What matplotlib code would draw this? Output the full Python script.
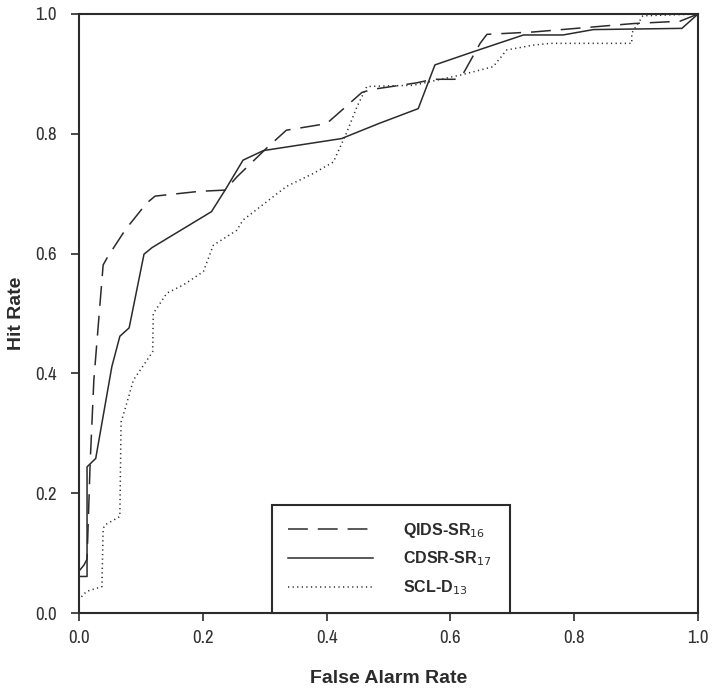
import matplotlib
matplotlib.use("Agg")
import matplotlib.pyplot as plt
from matplotlib.lines import Line2D
from matplotlib import font_manager

plt.rcParams["font.family"] = ["Liberation Sans", "DejaVu Sans"]

# condensed face for tick labels if present
NARROW = [f.name for f in font_manager.fontManager.ttflist if "Narrow" in f.name]
TICK_FAMILY = [NARROW[0], "Liberation Sans"] if NARROW else ["Liberation Sans"]

INK = "#2b2b2b"

# ROC curves
qids_x = [0.0, 0.008, 0.013, 0.018, 0.024, 0.039, 0.046, 0.075, 0.109, 0.123,
          0.195, 0.236, 0.255, 0.303, 0.335, 0.400, 0.422, 0.457, 0.473,
          0.545, 0.572, 0.607, 0.621, 0.648, 0.659, 0.734, 0.895, 0.971, 1.0]
qids_y = [0.070, 0.080, 0.09, 0.25, 0.389, 0.581, 0.594, 0.640, 0.684, 0.696,
          0.704, 0.706, 0.728, 0.776, 0.806, 0.817, 0.837, 0.869, 0.874,
          0.885, 0.891, 0.891, 0.901, 0.951, 0.966, 0.970, 0.984, 0.988, 1.0]

cdsr_x = [0.0, 0.013, 0.013, 0.027, 0.053, 0.066, 0.081, 0.105, 0.118, 0.214,
          0.236, 0.265, 0.298, 0.424, 0.484, 0.548, 0.575, 0.637, 0.718,
          0.782, 0.831, 0.974, 1.0]
cdsr_y = [0.061, 0.061, 0.244, 0.258, 0.411, 0.462, 0.476, 0.599, 0.610, 0.670,
          0.706, 0.756, 0.772, 0.792, 0.817, 0.842, 0.915, 0.937, 0.965,
          0.965, 0.974, 0.976, 1.0]

scl_x = [0.004, 0.012, 0.037, 0.039, 0.042, 0.066, 0.068, 0.074, 0.088, 0.119,
         0.120, 0.142, 0.169, 0.201, 0.217, 0.255, 0.265, 0.335, 0.379, 0.411,
         0.432, 0.449, 0.465, 0.540, 0.616, 0.669, 0.691, 0.734, 0.761,
         0.893, 0.893, 0.911, 1.0]
scl_y = [0.027, 0.036, 0.044, 0.141, 0.147, 0.161, 0.319, 0.339, 0.389, 0.436,
         0.500, 0.534, 0.548, 0.570, 0.614, 0.639, 0.656, 0.712, 0.734, 0.753,
         0.801, 0.845, 0.879, 0.881, 0.898, 0.912, 0.940, 0.948, 0.951,
         0.951, 0.968, 0.997, 1.0]

labels = ["QIDS-SR$_{16}$", "CDSR-SR$_{17}$", "SCL-D$_{13}$"]
ticks = [0.0, 0.2, 0.4, 0.6, 0.8, 1.0]

DASH = (0, (13, 6.5))
DOT = (0, (0.8, 2.2))

fig = plt.figure(figsize=(7.14, 6.95), dpi=100)
ax = fig.add_axes([79 / 714, 82 / 695, 619 / 714, 599 / 695])

ax.plot(qids_x, qids_y, color=INK, lw=1.1, ls=DASH)
ax.plot(cdsr_x, cdsr_y, color=INK, lw=1.1, ls="-")
ax.plot(scl_x, scl_y, color=INK, lw=1.1, ls=DOT)

ax.set_xlim(0, 1)
ax.set_ylim(0, 1)
ax.set_xticks(ticks)
ax.set_yticks(ticks)
ax.set_xticklabels([f"{t:.1f}" for t in ticks], family=TICK_FAMILY)
ax.set_yticklabels([f"{t:.1f}" for t in ticks], family=TICK_FAMILY)
ax.tick_params(direction="out", length=6, width=1.2, colors=INK,
               labelsize=13.5, labelcolor="#333333")
ax.tick_params(axis="x", pad=6)
ax.tick_params(axis="y", pad=10)
for s in ax.spines.values():
    s.set_color(INK); s.set_linewidth(1.5)

ax.set_xlabel("False Alarm Rate", fontsize=14, fontweight="bold", color=INK)
ax.set_ylabel("Hit Rate", fontsize=14, fontweight="bold", color=INK)
ax.xaxis.set_label_coords(0.5, -0.095)
ax.yaxis.set_label_coords(-0.087, 0.5)

handles = [Line2D([], [], color=INK, lw=1.1, ls=DASH),
           Line2D([], [], color=INK, lw=1.1, ls="-"),
           Line2D([], [], color=INK, lw=1.1, ls=DOT)]
leg = ax.legend(handles, labels, loc="lower left",
                bbox_to_anchor=(0.312, 0.0, 0.384, 0.175), mode="expand",
                fancybox=False, framealpha=1, edgecolor=INK, borderaxespad=0,
                handlelength=5.3, handletextpad=1.9, labelspacing=0.62,
                borderpad=1.0,
                prop={"weight": "bold", "size": 11.5})
leg.get_frame().set_linewidth(1.5)
for t in leg.get_texts():
    t.set_color(INK)

fig.savefig("out.png", dpi=100, facecolor="white")
